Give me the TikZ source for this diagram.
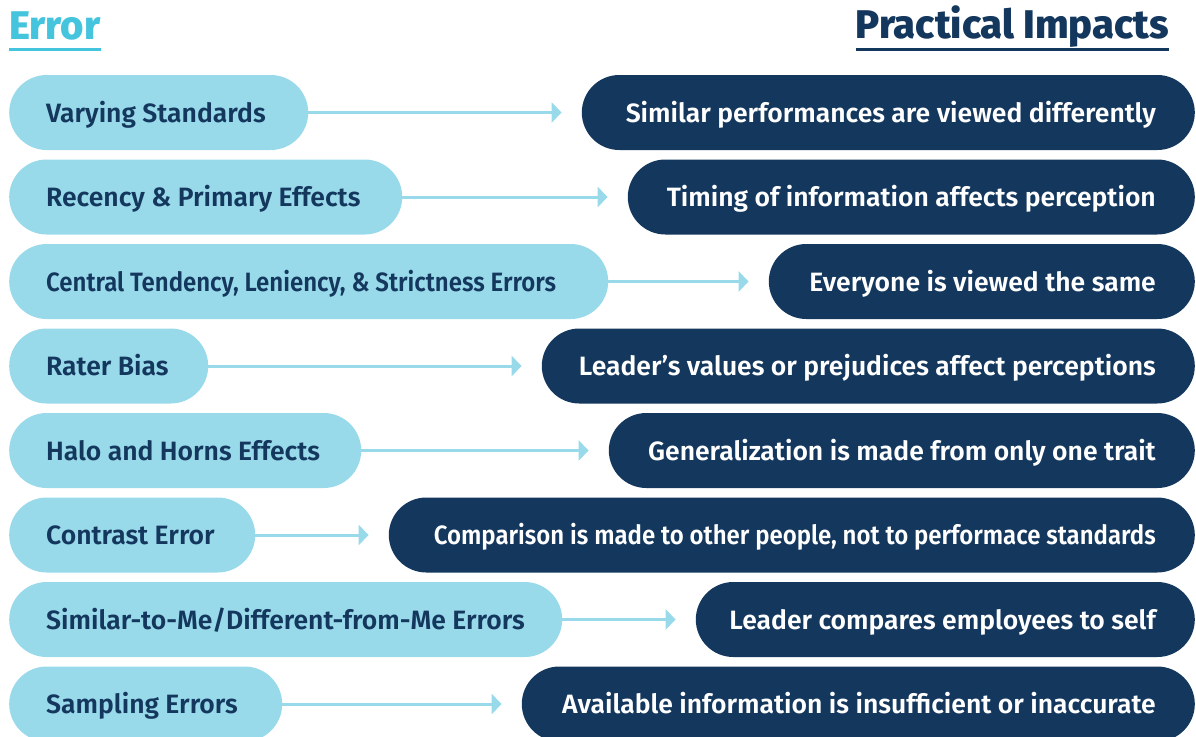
\documentclass[tikz,border=0pt]{standalone}
\usepackage{fontspec}
\setmainfont{Fira Sans}
\newfontfamily\pillfont{Fira Sans SemiBold}
\newfontfamily\tightfont{Fira Sans SemiBold}[FakeStretch=0.905]
\newfontfamily\headfont{Fira Sans ExtraBold}
\usetikzlibrary{arrows.meta,positioning}

\definecolor{errblue}{HTML}{98D9EA}
\definecolor{impnavy}{HTML}{14375D}
\definecolor{headcyan}{HTML}{45C4DD}

\begin{document}
\begin{tikzpicture}[x=1pt,y=-1pt,>={Triangle[length=10pt,width=20pt]},
	pill/.style={rounded corners=37.5pt,minimum height=75pt,text height=19pt,text depth=0pt,
		font=\pillfont\fontsize{26.5}{32}\selectfont},
	% text sits in a box of fixed width: flush left in the error pills, flush right in the impact pills
	errbox/.style={pill,fill=errblue,text=impnavy,anchor=west,inner xsep=37pt,
		execute at begin node={\hbox to #1\bgroup},execute at end node={\hss\egroup}},
	impbox/.style={pill,fill=impnavy,text=white,anchor=east,inner xsep=39pt,
		execute at begin node={\hbox to #1\bgroup\hss},execute at end node={\egroup}},
	tight/.style={font=\tightfont\fontsize{26.5}{32}\selectfont},
	flow/.style={->,draw=errblue,line width=3pt,shorten >=20pt},
	heading/.style={inner sep=0pt,font=\headfont\fontsize{40}{46}\selectfont}]
	\useasboundingbox (0,0) rectangle (1196,736);

	% headings
	\node[heading,text=headcyan,anchor=base west] (hdErr) at (9,39) {Error};
	\node[heading,text=impnavy,anchor=base east] (hdImp) at (1169,38) {Practical Impacts};
	\draw[headcyan,line width=3pt] ([yshift=-10.5pt]hdErr.base west) -- ([yshift=-10.5pt]hdErr.base east);
	\draw[impnavy,line width=3pt] ([yshift=-11.5pt]hdImp.base west) -- ([yshift=-11.5pt]hdImp.base east);

	% errors
	\node[errbox=225pt] (e1) at (9,112.5) {Varying Standards};
	\node[errbox=319pt] (e2) at (9,197) {Recency \& Primary Effects};
	\node[errbox=525pt,tight] (e3) at (9,281.5) {Central Tendency, Leniency, \& Strictness Errors};
	\node[errbox=125pt] (e4) at (9,366) {Rater Bias};
	\node[errbox=278pt] (e5) at (9,450.5) {Halo and Horns Effects};
	\node[errbox=172pt] (e6) at (9,535) {Contrast Error};
	\node[errbox=479pt] (e7) at (9,619.5) {Similar-to-Me/Different-from-Me Errors};
	\node[errbox=199pt] (e8) at (9,704) {Sampling Errors};

	% impacts
	\node[impbox=535pt] (p1) at (1195,112.5) {Similar performances are viewed differently};
	\node[impbox=489pt] (p2) at (1195,197) {Timing of information affects perception};
	\node[impbox=348pt] (p3) at (1195,281.5) {Everyone is viewed the same};
	\node[impbox=575pt] (p4) at (1195,366) {Leader’s values or prejudices affect perceptions};
	\node[impbox=508pt] (p5) at (1195,450.5) {Generalization is made from only one trait};
	\node[impbox=728pt,tight] (p6) at (1195,535) {Comparison is made to other people, not to performace standards};
	\node[impbox=421pt] (p7) at (1195,619.5) {Leader compares employees to self};
	\node[impbox=595pt] (p8) at (1195,704) {Available information is insufficient or inaccurate};

	\foreach \i in {1,...,8}
		\draw[flow] (e\i) -- (p\i);
\end{tikzpicture}
\end{document}
